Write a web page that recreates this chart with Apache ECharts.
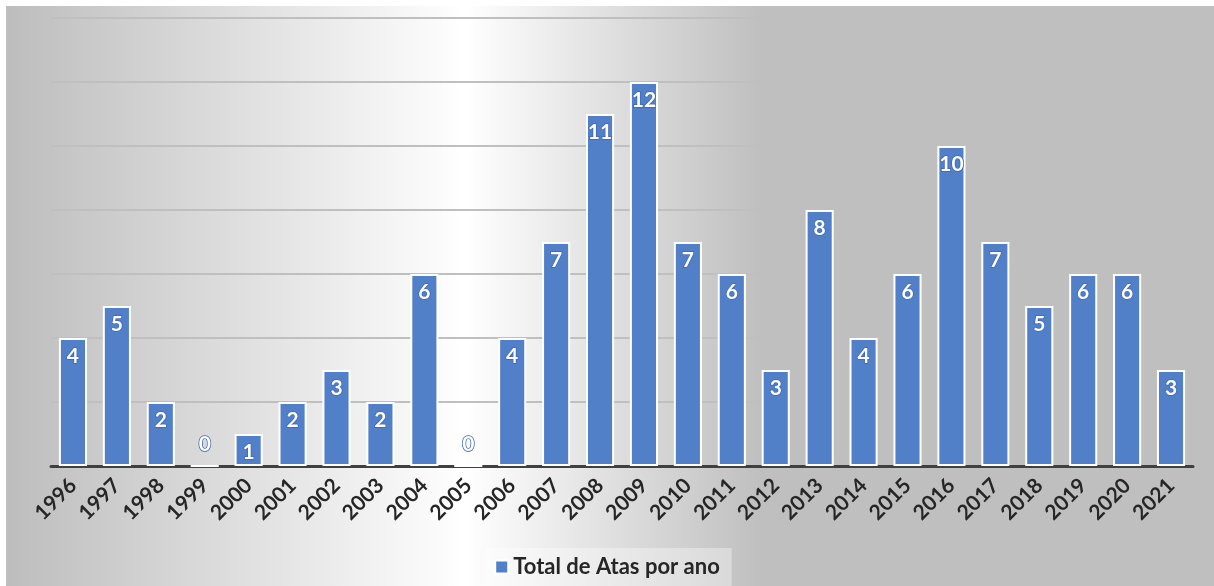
<!DOCTYPE html>
<html>
<head>
<meta charset="utf-8">
<script src="https://cdn.jsdelivr.net/npm/echarts@6/dist/echarts.min.js"></script>
<style>
  html, body { margin: 0; padding: 0; background: #ffffff; }
  #chart { width: 1214px; height: 586px; }
</style>
</head>
<body>
<div id="chart"></div>
<script>
// Atas registradas por ano
const years = ['1996','1997','1998','1999','2000','2001','2002','2003','2004','2005','2006','2007','2008',
               '2009','2010','2011','2012','2013','2014','2015','2016','2017','2018','2019','2020','2021'];
const totalAtas = [4, 5, 2, 0, 1, 2, 3, 2, 6, 0, 4, 7, 11, 12, 7, 6, 3, 8, 4, 6, 10, 7, 5, 6, 6, 3];
const seriesName = 'Total de Atas por ano';

const BAR_BLUE = '#5280c8';

// zero-height bars keep their label just above the baseline
const barData = totalAtas.map(v => v === 0
  ? { value: v, label: { position: 'top', distance: 10 } }
  : v);

const chart = echarts.init(document.getElementById('chart'), null, { renderer: 'canvas' });

chart.setOption({
  animation: false,
  backgroundColor: '#ffffff',
  graphic: [{
    type: 'rect',
    z: -10,
    silent: true,
    shape: { x: 6, y: 6, width: 1208, height: 580 },
    style: {
      fill: new echarts.graphic.LinearGradient(0, 0, 1, 0, [
        { offset: 0, color: '#bdbdbd' },
        { offset: 0.38, color: '#ffffff' },
        { offset: 0.625, color: '#bfbfbf' },
        { offset: 1, color: '#bfbfbf' }
      ])
    }
  }],
  grid: { left: 51, right: 21, top: 18, bottom: 120, containLabel: false },
  legend: {
    bottom: 0,
    left: 'center',
    data: [seriesName],
    icon: 'rect',
    itemWidth: 13,
    itemHeight: 13,
    itemGap: 8,
    padding: [8, 12, 8, 9],
    backgroundColor: 'rgba(255,255,255,0.35)',
    textStyle: {
      fontFamily: 'Lato',
      fontWeight: 'bold',
      fontSize: 22,
      color: '#262626'
    }
  },
  xAxis: {
    type: 'category',
    data: years,
    axisLine: { show: true, lineStyle: { color: '#404040', width: 3 } },
    axisTick: { show: false },
    axisLabel: {
      rotate: 45,
      interval: 0,
      margin: 16,
      fontFamily: 'Lato',
      fontWeight: 'bold',
      fontSize: 21,
      color: '#262626'
    }
  },
  yAxis: {
    type: 'value',
    min: 0,
    max: 14,
    interval: 2,
    axisLine: { show: false },
    axisTick: { show: false },
    axisLabel: { show: false },
    splitLine: { show: true, lineStyle: { color: '#bfbfbf', width: 2 } }
  },
  series: [{
    name: seriesName,
    type: 'bar',
    data: barData,
    barCategoryGap: '36%',
    itemStyle: {
      color: BAR_BLUE,
      borderColor: '#ffffff',
      borderWidth: 2
    },
    label: {
      show: true,
      position: 'insideTop',
      distance: 8,
      fontFamily: 'Lato',
      fontWeight: 'bold',
      fontSize: 21,
      color: '#ffffff',
      textBorderColor: '#3d66b8',
      textBorderWidth: 1.5
    }
  }]
});
</script>
</body>
</html>
